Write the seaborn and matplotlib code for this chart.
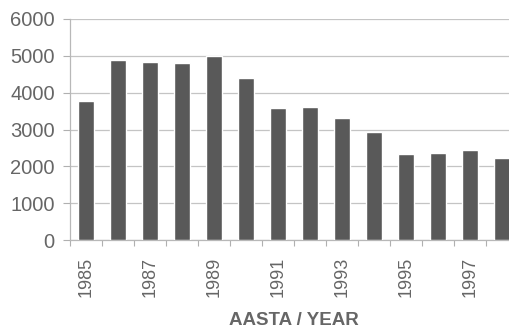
import matplotlib
matplotlib.use("Agg")
import matplotlib.pyplot as plt
import seaborn as sns
import pandas as pd

years = [1985, 1986, 1987, 1988, 1989, 1990, 1991, 1992, 1993, 1994, 1995, 1996, 1997, 1998]
values = [3780, 4890, 4840, 4800, 5000, 4390, 3580, 3600, 3300, 2920, 2330, 2360, 2440, 2220]
y_ticks = [0, 1000, 2000, 3000, 4000, 5000, 6000]

df = pd.DataFrame({"year": [str(y) for y in years], "value": values})

sns.set_theme(style="white")
plt.rcParams["font.family"] = ["Liberation Sans", "DejaVu Sans"]

W, H = 510, 329
fig = plt.figure(figsize=(W / 100, H / 100), dpi=100)
ax = fig.add_axes([70 / W, (H - 240) / H, 448 / W, 221 / H])

sns.barplot(data=df, x="year", y="value", color="#595959", saturation=1,
            width=0.47, ax=ax, zorder=3)

ax.set_ylim(0, 6000)
ax.set_xlim(-0.5, len(years) - 0.5)
ax.set_yticks(y_ticks)
ax.set_yticklabels([str(t) for t in y_ticks])
ax.yaxis.grid(True, color="#c4c4c4", lw=0.9, zorder=0)
ax.xaxis.grid(False)

ax.set_xticks(range(0, len(years), 2))
ax.set_xticklabels([str(y) for y in years[::2]], rotation=90)
ax.set_xticks([i - 0.5 for i in range(len(years) + 1)], minor=True)
ax.tick_params(axis="x", which="major", length=0, pad=12, labelsize=13, labelcolor="#666666")
ax.tick_params(axis="x", which="minor", length=4, width=0.8, color="#b0b0b0", direction="out", bottom=True)
ax.tick_params(axis="y", length=5, width=0.8, color="#b0b0b0", pad=6, labelsize=14.5,
               labelcolor="#666666", left=True)

for side in ["top", "right"]:
    ax.spines[side].set_visible(False)
for side in ["left", "bottom"]:
    ax.spines[side].set_color("#b8b8b8")
    ax.spines[side].set_linewidth(0.9)

ax.set_ylabel("")
ax.set_xlabel("AASTA / YEAR", fontsize=13.5, fontweight="bold", color="#666666", labelpad=11)

fig.savefig("out.png", dpi=100, facecolor="white")
